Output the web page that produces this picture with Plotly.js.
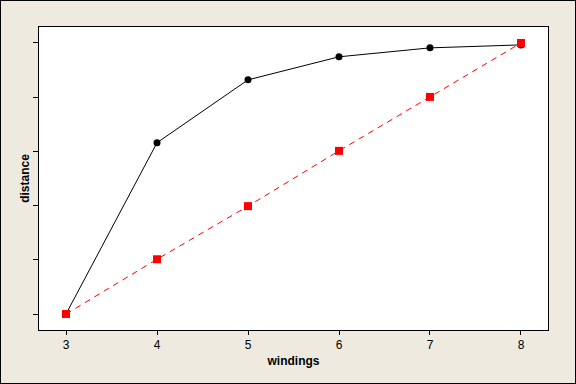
<!DOCTYPE html>
<html><head><meta charset="utf-8">
<script src="https://cdn.plot.ly/plotly-3.0.1.min.js"></script>
<style>
html,body{margin:0;padding:0;background:#EEEAE0;}
#wrap{position:relative;width:576px;height:384px;}
#chart{width:576px;height:384px;}
#frame{position:absolute;left:0;top:0;width:574px;height:382px;border:1px solid #000;pointer-events:none;}
</style>
</head><body>
<div id="wrap"><div id="chart"></div><div id="frame"></div></div>
<script>
const windings = [3, 4, 5, 6, 7, 8];
const distanceBlack = [0, 0.632, 0.864, 0.949, 0.982, 0.993];
const distanceRed = [0, 0.202, 0.398, 0.602, 0.801, 1.0];
const xTickVals = [3, 4, 5, 6, 7, 8];
const yTickVals = [0, 0.2, 0.4, 0.6, 0.8, 1.0];

const traces = [
  {x: windings, y: distanceBlack, mode: 'lines+markers', type: 'scatter',
   line: {color: '#000000', width: 1}, marker: {symbol: 'circle', size: 7, color: '#000000'}},
  {x: windings, y: distanceRed, mode: 'lines+markers', type: 'scatter',
   line: {color: '#FF0000', width: 1, dash: '6px,5px'}, marker: {symbol: 'square', size: 8, color: '#FF0000'}}
];
const layout = {
  width: 576, height: 384,
  margin: {l: 39, r: 28, t: 27, b: 54},
  paper_bgcolor: '#EEEAE0', plot_bgcolor: '#FFFFFF',
  showlegend: false,
  font: {family: 'Liberation Sans, Arial, sans-serif', size: 12, color: '#000'},
  xaxis: {range: [2.703, 8.297], tickvals: xTickVals, ticktext: xTickVals.map(String),
    ticks: 'outside', ticklen: 4, tickcolor: '#000', showgrid: false, zeroline: false,
    showline: true, linecolor: '#000', linewidth: 1, mirror: true,
    title: {text: '<b>windings</b>', font: {size: 12}, standoff: 5}},
  yaxis: {range: [-0.059, 1.059], tickvals: yTickVals, showticklabels: false,
    ticks: 'outside', ticklen: 5, tickcolor: '#000', showgrid: false, zeroline: false,
    showline: true, linecolor: '#000', linewidth: 1, mirror: true,
    title: {text: '<b>distance</b>', font: {size: 12}, standoff: 0}}
};
Plotly.newPlot('chart', traces, layout, {staticPlot: true, displayModeBar: false});
</script>
</body></html>
